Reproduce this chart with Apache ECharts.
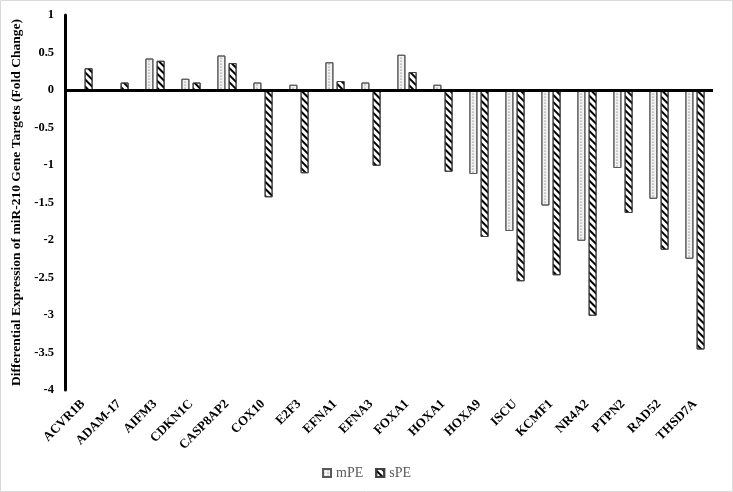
<!DOCTYPE html>
<html><head><meta charset="utf-8">
<script src="https://cdn.jsdelivr.net/npm/echarts@6/dist/echarts.min.js"></script>
<style>html,body{margin:0;padding:0;background:#fff}#c{width:733px;height:492px}</style>
</head><body><div id="c"></div>
<script>
const categories = ['ACVR1B','ADAM-17','AIFM3','CDKN1C','CASP8AP2','COX10','E2F3','EFNA1','EFNA3','FOXA1','HOXA1','HOXA9','ISCU','KCMF1','NR4A2','PTPN2','RAD52','THSD7A'];
const mPE = [null, null, 0.42, 0.15, 0.46, 0.10, 0.07, 0.37, 0.10, 0.47, 0.07, -1.12, -1.88, -1.54, -2.01, -1.04, -1.45, -2.25];
const sPE = [0.29, 0.10, 0.39, 0.10, 0.36, -1.43, -1.11, 0.12, -1.01, 0.24, -1.09, -1.96, -2.55, -2.47, -3.01, -1.64, -2.13, -3.46];
const yTicks = {min: -4, max: 1, interval: 0.5};

const chart = echarts.init(document.getElementById('c'));
const font = '"Liberation Serif", "Times New Roman", serif';
chart.setOption({
  animation: false,
  backgroundColor: '#fff',
  graphic: [{type:'rect', shape:{x:0.5,y:0.5,width:732,height:491}, style:{fill:'none', stroke:'#d9d9d9', lineWidth:1}, silent:true}],
  grid: {left: 65, top: 15, right: 20, bottom: 102, containLabel: false, outerBoundsMode: 'none'},
  legend: {
    data: ['mPE','sPE'], left: 'center', top: 461, icon: 'rect', itemWidth: 8, itemHeight: 8, itemGap: 12,
    textStyle: {fontFamily: font, fontSize: 14, color: '#595959'}
  },
  xAxis: {
    type: 'category', data: categories,
    axisLine: {show: false, onZero: false},
    axisTick: {show: false},
    axisLabel: {interval: 0, rotate: 45, fontFamily: font, fontWeight: 'bold', fontSize: 13, color: '#000', margin: 12}
  },
  yAxis: {
    type: 'value', min: yTicks.min, max: yTicks.max, interval: yTicks.interval,
    name: 'Differential Expression of miR-210 Gene Targets (Fold Change)',
    nameLocation: 'middle', nameGap: 41,
    nameTextStyle: {fontFamily: font, fontWeight: 'bold', fontSize: 13.5, color: '#000'},
    axisLine: {show: true, onZero: false, lineStyle: {color: '#000', width: 3}},
    axisTick: {show: false},
    splitLine: {show: false},
    axisLabel: {fontFamily: font, fontWeight: 'bold', fontSize: 12.5, color: '#000', margin: 11}
  },
  series: [
    {name: 'mPE', type: 'bar', data: mPE, barWidth: 8, barGap: '40%',
     itemStyle: {color: '#f2f2f2', borderColor: '#595959', borderWidth: 1,
       decal: {symbol: 'circle', symbolSize: 0.6, dashArrayX: [[2, 2]], dashArrayY: [2, 1], color: '#555'}},
     markLine: {silent: true, symbol: 'none', label: {show: false},
       lineStyle: {color: '#000', width: 3, type: 'solid'}, data: [{yAxis: 0}]}},
    {name: 'sPE', type: 'bar', data: sPE, barWidth: 8,
     itemStyle: {color: '#fff', borderColor: '#404040', borderWidth: 1,
       decal: {symbol: 'rect', dashArrayX: [1, 0], dashArrayY: [2, 2.5], rotation: Math.PI / 4, color: '#000'}}}
  ]
});
</script></body></html>
